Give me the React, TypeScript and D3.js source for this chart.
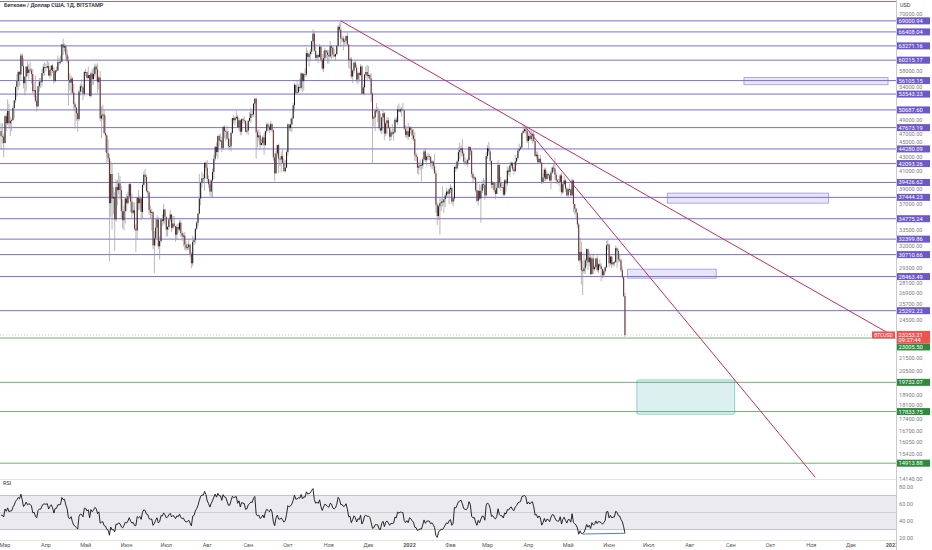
import * as d3 from "d3";

const W = 932;
const H = 550;

const title = "Биткоин / Доллар США, 1Д, BITSTAMP";
const firstDay = "2021-02-26";

// daily closes Feb 12 - Feb 25 2021, only used to warm up the RSI
const warmupCloses = [47.9, 47.2, 48.6, 47.9, 49.1, 52.1, 51.6, 55.9, 55.9, 57.4, 54.1, 48.9, 49.7, 47.1];

// daily candles in thousands of USD, one row per month (open = previous close)
const closes = [
  46.3, 46.2, 45.2,
  49.6, 48.4, 50.5, 48.4, 48.8, 48.9, 51.0, 52.4, 54.9, 56.0, 57.8, 57.3, 61.2, 59.0, 55.6, 56.9, 58.9, 57.6, 58.3, 58.1, 57.4, 54.1, 54.3, 52.3, 51.3, 55.0, 55.9, 55.8, 57.6, 58.8, 58.8,
  58.7, 59.0, 57.1, 58.2, 59.1, 58.0, 56.0, 58.1, 58.1, 59.8, 59.8, 59.9, 63.6, 62.9, 63.2, 61.4, 60.1, 56.2, 55.7, 56.5, 53.8, 51.7, 51.1, 50.1, 49.1, 54.0, 55.0, 54.8, 53.6, 57.8,
  57.8, 56.6, 57.2, 53.2, 57.5, 56.4, 57.4, 58.9, 58.3, 55.8, 56.7, 49.2, 49.7, 49.9, 46.8, 46.4, 43.6, 42.9, 36.7, 40.6, 37.3, 37.5, 34.7, 38.8, 38.4, 39.3, 38.4, 35.7, 34.6, 35.7, 37.3,
  36.7, 37.6, 39.2, 36.9, 35.5, 35.8, 33.6, 33.4, 37.4, 36.7, 37.3, 35.6, 39.1, 40.5, 40.2, 38.3, 38.1, 35.8, 35.5, 35.6, 31.7, 32.5, 33.7, 34.7, 31.6, 32.2, 34.7, 34.5, 35.9, 35.0,
  33.5, 33.8, 34.7, 35.3, 33.7, 34.2, 33.9, 32.9, 33.8, 33.5, 34.3, 33.1, 32.7, 32.8, 31.8, 31.4, 31.5, 31.8, 30.8, 29.8, 32.1, 32.3, 33.6, 34.3, 35.4, 37.3, 39.4, 40.0, 40.0, 42.2, 41.5,
  39.9, 39.2, 38.2, 39.7, 40.9, 42.8, 44.6, 43.8, 46.3, 45.6, 45.6, 44.4, 47.8, 47.1, 47.0, 45.9, 44.7, 44.7, 46.8, 49.3, 48.9, 49.3, 49.5, 47.7, 48.9, 47.0, 49.1, 48.9, 48.8, 47.0, 47.2,
  48.8, 49.3, 50.0, 49.9, 51.8, 52.7, 46.9, 46.1, 46.4, 44.9, 45.2, 46.1, 44.9, 47.1, 48.2, 47.8, 47.3, 48.3, 47.3, 43.0, 40.7, 43.6, 44.9, 42.8, 42.7, 43.2, 42.2, 41.0, 41.5, 43.8,
  48.2, 47.6, 48.2, 49.2, 51.5, 55.3, 53.8, 53.9, 54.9, 54.7, 57.5, 56.0, 57.4, 57.3, 61.7, 60.9, 61.5, 62.0, 64.3, 66.0, 62.2, 60.7, 61.3, 60.9, 63.1, 60.3, 58.5, 60.6, 62.3, 61.9, 61.3,
  61.0, 63.2, 62.9, 61.4, 61.0, 61.5, 63.3, 67.6, 66.9, 64.9, 64.9, 64.2, 64.4, 65.5, 63.6, 60.2, 60.4, 56.9, 58.1, 59.7, 58.7, 56.3, 57.6, 57.2, 58.9, 53.6, 54.8, 57.3, 57.8, 57.0,
  57.2, 56.5, 53.6, 49.2, 49.4, 50.6, 50.6, 50.5, 47.6, 47.2, 49.4, 50.1, 46.7, 48.4, 48.9, 47.6, 46.2, 46.9, 46.7, 46.9, 49.0, 48.6, 50.8, 50.4, 50.8, 50.7, 50.6, 47.5, 46.5, 47.1, 46.2,
  47.7, 47.3, 46.4, 45.8, 43.4, 43.1, 41.5, 41.7, 41.9, 41.8, 42.7, 43.9, 42.6, 43.1, 43.2, 43.1, 42.2, 42.4, 41.7, 40.7, 36.5, 35.1, 36.3, 36.7, 36.9, 36.8, 37.2, 37.7, 38.2, 37.9, 38.5,
  38.7, 36.9, 37.3, 41.6, 41.4, 42.4, 43.8, 44.1, 44.4, 43.6, 42.4, 42.2, 42.1, 42.6, 44.6, 44.0, 40.6, 40.0, 40.1, 38.4, 37.0, 38.3, 37.3, 38.3, 39.2, 39.1, 37.7, 43.2,
  44.4, 43.9, 42.5, 39.1, 39.4, 38.4, 37.9, 38.7, 41.9, 39.4, 38.8, 38.8, 37.8, 39.7, 39.3, 41.1, 40.9, 41.8, 42.2, 41.3, 41.0, 42.4, 42.9, 44.0, 44.3, 44.5, 46.8, 47.1, 47.4, 47.1, 45.5,
  46.3, 45.8, 46.4, 46.6, 45.5, 43.2, 43.4, 42.3, 42.8, 42.2, 39.5, 40.1, 41.2, 39.9, 40.6, 40.4, 39.7, 40.8, 41.5, 41.4, 40.5, 39.7, 39.5, 39.5, 40.4, 38.1, 39.2, 39.7, 38.6, 37.7,
  38.5, 38.5, 37.7, 39.7, 36.6, 36.0, 35.5, 34.1, 30.1, 31.0, 29.1, 29.0, 29.3, 30.1, 31.3, 29.9, 30.4, 28.7, 30.3, 29.2, 29.4, 30.3, 29.1, 29.7, 29.5, 29.2, 28.6, 29.0, 29.4, 31.7, 31.8,
  29.8, 30.5, 29.7, 29.9, 29.9, 31.4, 31.1, 30.2, 30.1, 29.1, 28.4, 26.6, 23.25,
];

const highs = [
  48.4, 48.4, 46.6,
  49.8, 50.1, 52.6, 51.8, 49.5, 49.2, 51.4, 52.4, 54.9, 57.4, 58.1, 58.0, 61.7, 61.6, 60.6, 56.9, 58.9, 60.0, 59.4, 59.9, 58.6, 58.4, 55.8, 57.1, 53.2, 55.1, 56.6, 56.6, 58.4, 59.4, 59.8,
  59.5, 60.1, 59.8, 58.5, 59.2, 59.5, 58.7, 58.2, 58.9, 61.2, 60.7, 61.2, 63.7, 64.9, 63.8, 63.6, 62.5, 61.0, 57.5, 57.1, 56.8, 55.5, 52.1, 51.2, 50.5, 54.3, 55.5, 56.4, 55.2, 58.0,
  58.4, 57.9, 58.9, 57.1, 57.9, 58.4, 58.6, 59.5, 59.3, 59.6, 57.0, 58.0, 51.3, 51.6, 50.7, 49.7, 46.6, 45.8, 43.5, 42.5, 42.2, 38.8, 38.2, 39.8, 39.8, 40.8, 40.3, 38.9, 37.2, 36.4, 37.5,
  37.9, 38.2, 39.5, 39.3, 37.9, 36.8, 36.8, 34.1, 37.5, 38.4, 37.7, 37.4, 39.3, 41.0, 41.3, 40.5, 39.5, 38.2, 36.4, 36.0, 35.7, 33.3, 34.8, 35.2, 35.0, 32.7, 34.7, 35.3, 36.6, 36.0,
  35.0, 33.9, 34.9, 35.9, 35.3, 35.1, 35.1, 33.9, 34.1, 34.2, 34.6, 34.6, 33.3, 33.1, 33.2, 32.2, 31.9, 32.4, 31.9, 31.0, 32.8, 32.6, 33.6, 34.5, 35.4, 40.6, 39.5, 40.9, 40.6, 42.3, 42.4,
  42.6, 40.4, 39.8, 39.9, 41.4, 43.4, 44.7, 45.3, 46.4, 46.6, 46.7, 46.2, 47.9, 48.1, 47.4, 48.0, 47.1, 45.9, 47.0, 49.3, 49.8, 49.5, 50.5, 49.8, 49.3, 49.0, 49.2, 49.3, 49.6, 48.9, 48.4,
  49.0, 50.3, 51.0, 50.6, 51.9, 52.8, 52.9, 47.3, 47.4, 47.0, 45.9, 46.4, 46.8, 47.2, 48.5, 48.5, 48.1, 48.8, 48.3, 47.3, 43.6, 44.0, 44.9, 45.1, 42.9, 43.9, 44.3, 42.8, 42.6, 44.1,
  48.4, 48.3, 49.2, 49.5, 51.9, 55.7, 55.3, 56.1, 55.4, 56.5, 57.8, 57.6, 57.6, 58.5, 62.9, 62.3, 61.7, 62.6, 64.4, 67.0, 66.6, 63.7, 61.7, 61.5, 63.7, 63.3, 61.5, 62.2, 62.9, 62.3, 62.4,
  62.4, 64.3, 63.5, 63.1, 62.6, 61.6, 63.3, 68.0, 68.5, 69.0, 65.6, 65.4, 64.9, 65.5, 66.3, 63.6, 60.8, 60.9, 58.4, 59.9, 60.1, 59.3, 57.9, 57.8, 59.4, 59.2, 55.3, 57.4, 58.9, 59.2,
  59.0, 57.4, 57.6, 53.9, 49.7, 50.9, 51.9, 51.2, 50.8, 50.1, 49.5, 50.8, 50.3, 48.7, 49.5, 49.4, 48.0, 47.3, 48.3, 47.5, 49.3, 49.5, 51.4, 51.8, 51.1, 51.2, 52.0, 50.7, 48.1, 47.9, 48.5,
  47.9, 47.9, 47.5, 47.4, 47.0, 43.7, 43.1, 42.3, 42.7, 42.2, 43.0, 44.3, 44.4, 43.4, 43.7, 43.5, 43.2, 42.6, 42.5, 43.5, 41.1, 36.8, 36.5, 37.5, 37.5, 38.9, 37.2, 38.0, 38.7, 38.4, 38.7,
  39.2, 38.9, 37.4, 41.7, 41.9, 42.6, 44.5, 45.3, 44.8, 45.8, 43.9, 43.0, 42.7, 42.9, 44.7, 44.6, 44.2, 40.9, 40.4, 40.2, 39.5, 38.4, 39.2, 39.0, 39.7, 40.0, 39.8, 43.8,
  44.9, 45.4, 44.1, 42.5, 39.6, 39.4, 39.5, 39.3, 42.6, 41.9, 40.2, 39.4, 39.3, 39.9, 39.9, 41.7, 41.5, 42.3, 42.4, 42.3, 41.6, 43.4, 43.0, 44.3, 45.1, 44.8, 46.9, 48.2, 48.1, 47.7, 47.6,
  46.7, 47.2, 47.4, 46.9, 47.2, 45.5, 43.9, 43.9, 42.8, 43.4, 42.4, 40.7, 41.5, 41.5, 40.9, 40.7, 40.6, 41.1, 41.7, 42.2, 42.9, 40.8, 39.9, 39.9, 40.6, 40.8, 39.5, 40.4, 39.9, 38.8,
  38.7, 39.2, 38.6, 40.0, 39.8, 36.6, 36.1, 35.5, 34.3, 32.6, 32.1, 30.1, 30.9, 30.3, 31.4, 31.3, 31.0, 30.7, 30.5, 30.7, 29.6, 30.4, 30.6, 29.8, 30.2, 29.8, 29.3, 29.2, 29.5, 32.2, 32.4,
  31.9, 30.6, 30.6, 29.9, 30.1, 31.7, 31.5, 31.3, 30.7, 30.3, 29.4, 28.5, 26.9,
];

const lows = [
  44.2, 45.1, 43.0,
  45.1, 47.1, 48.1, 47.5, 46.3, 47.1, 48.9, 49.3, 51.9, 53.1, 54.3, 55.0, 56.1, 58.9, 54.6, 53.3, 54.1, 57.0, 56.3, 57.9, 55.5, 53.7, 53.0, 52.0, 50.4, 51.3, 54.0, 54.7, 55.0, 57.1, 57.0,
  57.9, 58.5, 57.0, 56.5, 56.9, 57.6, 55.5, 55.9, 57.7, 58.0, 59.2, 59.4, 59.8, 61.3, 62.0, 60.0, 59.6, 51.5, 54.2, 53.6, 53.6, 50.5, 47.5, 48.8, 47.0, 48.8, 53.3, 53.9, 52.4, 53.1,
  57.0, 56.1, 56.5, 53.1, 52.9, 55.3, 55.3, 56.9, 56.2, 53.8, 54.4, 48.7, 46.0, 48.9, 46.6, 43.8, 42.1, 42.3, 30.0, 35.0, 33.5, 35.3, 31.1, 34.4, 36.4, 37.8, 37.2, 34.7, 33.6, 33.4, 34.2,
  35.7, 36.5, 37.2, 35.6, 34.8, 35.3, 33.4, 31.0, 32.4, 35.8, 35.9, 34.6, 34.8, 38.8, 39.6, 38.1, 37.4, 35.2, 34.8, 33.4, 31.3, 28.8, 31.7, 32.4, 31.3, 30.2, 32.0, 33.9, 34.2, 34.0,
  32.7, 32.7, 33.4, 34.4, 33.2, 33.5, 33.8, 32.1, 32.3, 33.1, 33.3, 32.7, 32.2, 31.6, 31.2, 31.1, 31.2, 31.2, 30.4, 29.3, 29.5, 31.7, 31.9, 33.4, 33.9, 35.3, 36.4, 38.8, 39.3, 38.3, 41.0,
  39.5, 38.7, 37.6, 37.5, 37.3, 39.9, 42.5, 43.2, 42.8, 44.7, 45.4, 43.8, 44.2, 45.9, 45.5, 45.7, 44.4, 44.2, 43.9, 46.7, 48.3, 48.1, 49.0, 47.6, 47.2, 46.4, 46.5, 48.4, 48.3, 46.9, 46.7,
  46.5, 48.6, 48.4, 49.5, 49.5, 50.9, 42.8, 44.5, 45.5, 44.2, 44.8, 44.8, 43.4, 44.7, 46.8, 47.1, 46.8, 47.1, 46.9, 42.5, 39.6, 40.6, 43.1, 40.7, 41.7, 40.8, 42.1, 40.9, 40.8, 41.4,
  43.3, 47.1, 47.1, 46.9, 49.1, 50.4, 53.4, 53.6, 53.7, 54.1, 54.4, 53.9, 54.2, 56.8, 56.9, 60.2, 58.9, 60.1, 61.4, 63.5, 62.0, 60.0, 60.2, 59.6, 60.7, 59.8, 58.1, 57.8, 60.3, 60.7, 59.5,
  59.5, 60.7, 60.4, 60.7, 60.8, 60.1, 61.3, 63.3, 66.4, 63.0, 64.1, 62.3, 63.4, 63.6, 63.4, 58.6, 58.4, 56.5, 55.6, 57.5, 58.6, 55.7, 55.4, 55.9, 57.0, 53.6, 53.6, 53.3, 56.7, 56.0,
  56.5, 55.9, 52.1, 42.0, 47.9, 47.1, 50.1, 48.6, 47.3, 46.9, 46.6, 48.7, 45.7, 46.3, 46.6, 47.5, 45.5, 45.6, 46.4, 45.6, 46.7, 48.4, 48.1, 50.4, 50.2, 49.5, 50.5, 47.3, 46.1, 45.9, 45.7,
  46.2, 46.7, 45.7, 45.5, 42.5, 42.4, 40.6, 40.5, 41.2, 39.6, 41.3, 42.5, 42.3, 41.8, 42.6, 42.6, 41.6, 41.3, 41.1, 40.6, 35.5, 34.0, 34.6, 32.9, 35.7, 36.3, 35.5, 36.2, 37.4, 37.4, 36.6,
  38.0, 36.6, 36.3, 37.0, 40.9, 41.2, 41.8, 42.7, 43.1, 43.2, 42.0, 41.8, 41.9, 41.6, 42.5, 43.3, 40.1, 39.5, 39.7, 38.1, 36.8, 36.4, 37.1, 34.3, 38.0, 38.6, 37.1, 37.5,
  42.8, 43.4, 41.9, 38.6, 38.6, 38.1, 37.2, 37.9, 38.7, 38.6, 38.3, 38.7, 37.6, 37.6, 38.2, 38.9, 40.5, 40.2, 41.5, 41.0, 40.5, 40.9, 41.8, 42.6, 43.7, 44.1, 44.4, 46.7, 46.9, 46.6, 45.2,
  44.2, 45.6, 45.5, 45.1, 45.4, 43.1, 42.7, 42.1, 42.1, 42.0, 39.2, 39.3, 39.6, 39.6, 39.8, 40.0, 39.6, 38.5, 40.6, 40.9, 39.8, 39.2, 39.3, 39.0, 38.2, 37.7, 37.9, 38.9, 38.2, 37.6,
  37.4, 38.1, 37.5, 37.7, 35.6, 35.3, 34.8, 33.7, 30.0, 29.8, 27.7, 26.7, 28.8, 28.7, 29.5, 29.1, 29.5, 28.6, 28.7, 28.7, 29.0, 29.2, 28.9, 28.8, 29.3, 28.0, 28.3, 28.5, 28.8, 29.3, 31.2,
  29.4, 29.6, 29.3, 29.5, 29.5, 29.9, 29.3, 29.9, 29.9, 28.9, 28.2, 26.5, 23.1,
];

const currentPrice = 23253.21;
const countdown = "09:27:44";
const symbol = "BTCUSD";

const resistanceLevels = [
  69000.94, 66408.04, 63271.16, 60215.17, 56105.15, 53543.23, 50687.6, 47673.19, 44280.09,
  42093.26, 39426.62, 37444.23, 34775.24, 32399.86, 30710.66, 28463.49, 25292.22,
];
const supportLevels = [23005.5, 19732.07, 17833.75, 14913.88];

const priceTicks = [
  70000, 58000, 54000, 49000, 47000, 45000, 43000, 41000, 39000, 37000, 33500, 32000, 29300,
  28100, 26900, 25700, 24500, 21500, 20500, 18900, 18100, 17400, 16700, 16050, 15420, 14140,
];
const rsiTicks = [80, 60, 40, 20];

const monthLabels = [
  "Мар", "Апр", "Май", "Июн", "Июл", "Авг", "Сен", "Окт", "Ноя", "Дек", "2022", "Фев",
  "Мар", "Апр", "Май", "Июн", "Июл", "Авг", "Сен", "Окт", "Ноя", "Дек", "2023",
];

// drawn rectangles: [from, to, top price, bottom price]
const purpleZones: [string, string, number, number][] = [
  ["2022-09-11", "2022-12-29", 56700, 55300],
  ["2022-07-15", "2022-11-14", 38000, 36700],
  ["2022-06-15", "2022-08-21", 29200, 28300],
];
const tealZones: [string, string, number, number][] = [["2022-06-22", "2022-09-04", 19900, 17670]];

// trend lines: two anchor points [date, price]
const trendRay: [string, number][] = [["2021-11-10", 69000], ["2022-03-29", 48000]];
const trendSegment: [string, number][] = [["2022-03-30", 47700], ["2022-11-04", 14200]];
// RSI divergence line [date, rsi]
const rsiLine: [string, number][] = [["2022-05-12", 24.7], ["2022-06-13", 25.5]];

const FONT = "Roboto, 'Liberation Sans', sans-serif";
const PURPLE = "#7b6fd3";
const PURPLE_LABEL = "#6d58c9";
const GREEN = "#74b074";
const GREEN_LABEL = "#2f8a3b";
const RED = "#ef5350";
const TREND = "#c52a64";

const day = (s: string) => new Date(s + "T00:00:00Z");

export default function App() {
  const axisX = 896;
  const mainBottom = 479;

  const x = d3.scaleUtc().domain([day("2021-03-01"), day("2023-01-01")]).range([5, 892]);
  const y = d3.scaleLog().domain([16050, 58000]).range([442, 71]);
  const ry = d3.scaleLinear().domain([20, 80]).range([538, 487]);

  const n = Math.min(closes.length, highs.length, lows.length);
  const t0 = day(firstDay).getTime();
  const candles = d3.range(n).map((i) => {
    const open = (i === 0 ? warmupCloses[warmupCloses.length - 1] : closes[i - 1]) * 1000;
    const close = closes[i] * 1000;
    return {
      date: new Date(t0 + i * 86400000),
      open,
      close,
      high: Math.max(highs[i] * 1000, open, close),
      low: Math.min(lows[i] * 1000, open, close),
    };
  });

  // RSI 14 (Wilder)
  const all = [...warmupCloses, ...closes.slice(0, n)];
  const period = 14;
  let ag = 0;
  let al = 0;
  for (let i = 1; i <= period; i++) {
    const d = all[i] - all[i - 1];
    if (d > 0) ag += d;
    else al -= d;
  }
  ag /= period;
  al /= period;
  const rsi: { date: Date; v: number }[] = [];
  for (let i = period; i < all.length; i++) {
    if (i > period) {
      const d = all[i] - all[i - 1];
      ag = (ag * (period - 1) + Math.max(d, 0)) / period;
      al = (al * (period - 1) + Math.max(-d, 0)) / period;
    }
    const v = al === 0 ? 100 : 100 - 100 / (1 + ag / al);
    rsi.push({ date: candles[i - period].date, v });
  }
  const rsiPath = d3
    .line<{ date: Date; v: number }>()
    .x((d) => x(d.date))
    .y((d) => ry(d.v))(rsi);

  // trend lines
  const rayP1 = [x(day(trendRay[0][0])), y(trendRay[0][1])];
  const rayP2 = [x(day(trendRay[1][0])), y(trendRay[1][1])];
  const slope = (rayP2[1] - rayP1[1]) / (rayP2[0] - rayP1[0]);
  const rayEndX = axisX - 3;
  const rayEndY = rayP1[1] + slope * (rayEndX - rayP1[0]);

  const cy = y(currentPrice);
  const bw = 1.0;

  const monthTicks = d3.utcMonth.range(day("2021-03-01"), day("2023-01-02"));

  // axis labels: support labels get pushed below the live price tag
  const supportY = supportLevels.map((v) => {
    const ly = y(v);
    return Math.abs(ly - cy) < 12 ? cy + 12 : ly;
  });
  const labelYs = [...resistanceLevels.map((v) => y(v)), ...supportY, cy, cy + 5];
  // gray ticks are nudged off the coloured labels so that they stay readable
  const tickYs = priceTicks.map((v) => {
    let ty = y(v);
    for (const ly of labelYs) {
      if (Math.abs(ty - ly) < 6.6) ty = ty < ly ? ly - 6.6 : ly + 6.6;
    }
    return ty;
  });

  return (
    <div style={{ position: "absolute", left: 0, top: 0 }}>
      <svg width={W} height={H} style={{ display: "block", fontFamily: FONT }}>
        <rect x={0} y={0} width={W} height={H} fill="#ffffff" />
        <defs>
          <clipPath id="main">
            <rect x={0} y={0} width={axisX} height={mainBottom} />
          </clipPath>
          <clipPath id="rsi">
            <rect x={0} y={mainBottom + 1} width={axisX} height={61} />
          </clipPath>
        </defs>

        {/* main pane */}
        <g clipPath="url(#main)">
          <line x1={0} x2={axisX} y1={1.5} y2={1.5} stroke={PURPLE} strokeWidth={1} />
          {resistanceLevels.map((v) => (
            <line key={v} x1={0} x2={axisX} y1={y(v)} y2={y(v)} stroke={PURPLE} strokeWidth={1} />
          ))}
          {supportLevels.map((v) => (
            <line key={v} x1={0} x2={axisX} y1={y(v)} y2={y(v)} stroke={GREEN} strokeWidth={1} />
          ))}
          {purpleZones.map(([a, b, top, bot]) => (
            <rect
              key={a}
              x={x(day(a))}
              y={y(top)}
              width={x(day(b)) - x(day(a))}
              height={y(bot) - y(top)}
              fill="rgba(123,111,211,0.18)"
              stroke="rgba(123,111,211,0.7)"
              strokeWidth={0.8}
            />
          ))}
          {tealZones.map(([a, b, top, bot]) => (
            <rect
              key={a}
              x={x(day(a))}
              y={y(top)}
              width={x(day(b)) - x(day(a))}
              height={y(bot) - y(top)}
              rx={1.5}
              fill="rgba(38,166,154,0.16)"
              stroke="rgba(38,166,154,0.45)"
              strokeWidth={1}
            />
          ))}
          <line x1={0} x2={axisX} y1={cy} y2={cy} stroke={RED} strokeOpacity={0.5} strokeWidth={0.8} strokeDasharray="1 2" />

          {candles.map((c, i) => {
            const cx = x(c.date);
            const up = c.close >= c.open;
            const top = y(Math.max(c.open, c.close));
            const bot = y(Math.min(c.open, c.close));
            return (
              <g key={i}>
                <line x1={cx} x2={cx} y1={y(c.high)} y2={y(c.low)} stroke="#9a9a9a" strokeWidth={0.7} />
                <rect
                  x={cx - bw / 2}
                  y={top}
                  width={bw}
                  height={Math.max(bot - top, 0.8)}
                  fill={up ? "#161616" : "#6e2a2a"}
                />
              </g>
            );
          })}

          <line x1={rayP1[0]} y1={rayP1[1]} x2={rayEndX} y2={rayEndY} stroke={TREND} strokeWidth={1} />
          <line
            x1={x(day(trendSegment[0][0]))}
            y1={y(trendSegment[0][1])}
            x2={x(day(trendSegment[1][0]))}
            y2={y(trendSegment[1][1])}
            stroke={TREND}
            strokeWidth={1}
          />
        </g>

        <text x={4} y={7} fontSize={5.5} fontWeight={600} fill="#2a2a2a">
          {title}
        </text>

        {/* symbol tag */}
        <rect x={872} y={cy - 3.5} width={23} height={7} fill={RED} />
        <text x={883.5} y={cy + 2} fontSize={5} fill="#fff" textAnchor="middle">
          {symbol}
        </text>

        {/* RSI pane */}
        <line x1={0} x2={axisX} y1={mainBottom + 0.5} y2={mainBottom + 0.5} stroke="#e0e3eb" />
        <rect x={0} y={ry(70)} width={axisX} height={ry(30) - ry(70)} fill="#ebebef" />
        <line x1={0} x2={axisX} y1={ry(70)} y2={ry(70)} stroke="#b6b6be" strokeWidth={0.8} />
        <line x1={0} x2={axisX} y1={ry(50)} y2={ry(50)} stroke="#c9c9d0" strokeWidth={0.8} />
        <line x1={0} x2={axisX} y1={ry(30)} y2={ry(30)} stroke="#b6b6be" strokeWidth={0.8} />
        <g clipPath="url(#rsi)">
          <path d={rsiPath ?? ""} fill="none" stroke="#111" strokeWidth={0.9} />
          <line
            x1={x(day(rsiLine[0][0]))}
            y1={ry(rsiLine[0][1])}
            x2={x(day(rsiLine[1][0]))}
            y2={ry(rsiLine[1][1])}
            stroke="#4f7fd8"
            strokeWidth={1}
          />
        </g>
        <text x={3} y={485} fontSize={5.5} fill="#333">
          RSI
        </text>

        {/* time axis */}
        <line x1={0} x2={axisX} y1={540.5} y2={540.5} stroke="#e0e3eb" />
        {monthTicks.map((d, i) => (
          <text
            key={i}
            x={x(d)}
            y={547}
            fontSize={5.5}
            fill="#555"
            textAnchor="middle"
            fontWeight={monthLabels[i] && monthLabels[i].length === 4 ? 700 : 400}
          >
            {monthLabels[i]}
          </text>
        ))}

        {/* price axis */}
        <rect x={axisX} y={0} width={W - axisX} height={H} fill="#ffffff" />
        <line x1={axisX + 0.5} x2={axisX + 0.5} y1={0} y2={H} stroke="#c8cad2" />
        <text x={900} y={7} fontSize={5.5} fill="#333">
          USD
        </text>
        {priceTicks.map((v, i) => (
          <text key={v} x={899} y={tickYs[i] + 2} fontSize={5.6} fill="#7a7d86">
            {v.toFixed(2)}
          </text>
        ))}
        {rsiTicks.map((v) => (
          <text key={v} x={899} y={ry(v) + 2} fontSize={5.6} fill="#7a7d86">
            {v.toFixed(2)}
          </text>
        ))}
        {resistanceLevels.map((v) => (
          <g key={v}>
            <rect x={axisX + 1} y={y(v) - 3.5} width={33} height={7} fill={PURPLE_LABEL} />
            <text x={898.5} y={y(v) + 2} fontSize={5.8} fill="#fff">
              {v.toFixed(2)}
            </text>
          </g>
        ))}
        {supportLevels.map((v, i) => (
          <g key={v}>
            <rect x={axisX + 1} y={supportY[i] - 3.5} width={33} height={7} fill={GREEN_LABEL} />
            <text x={898.5} y={supportY[i] + 2} fontSize={5.8} fill="#fff">
              {v.toFixed(2)}
            </text>
          </g>
        ))}
        <rect x={axisX + 1} y={cy - 4} width={33} height={12.5} fill={RED} />
        <text x={898.5} y={cy + 1.8} fontSize={5.8} fill="#fff">
          {currentPrice.toFixed(2)}
        </text>
        <text x={898.5} y={cy + 7.3} fontSize={5.8} fill="#fff">
          {countdown}
        </text>
      </svg>
    </div>
  );
}
